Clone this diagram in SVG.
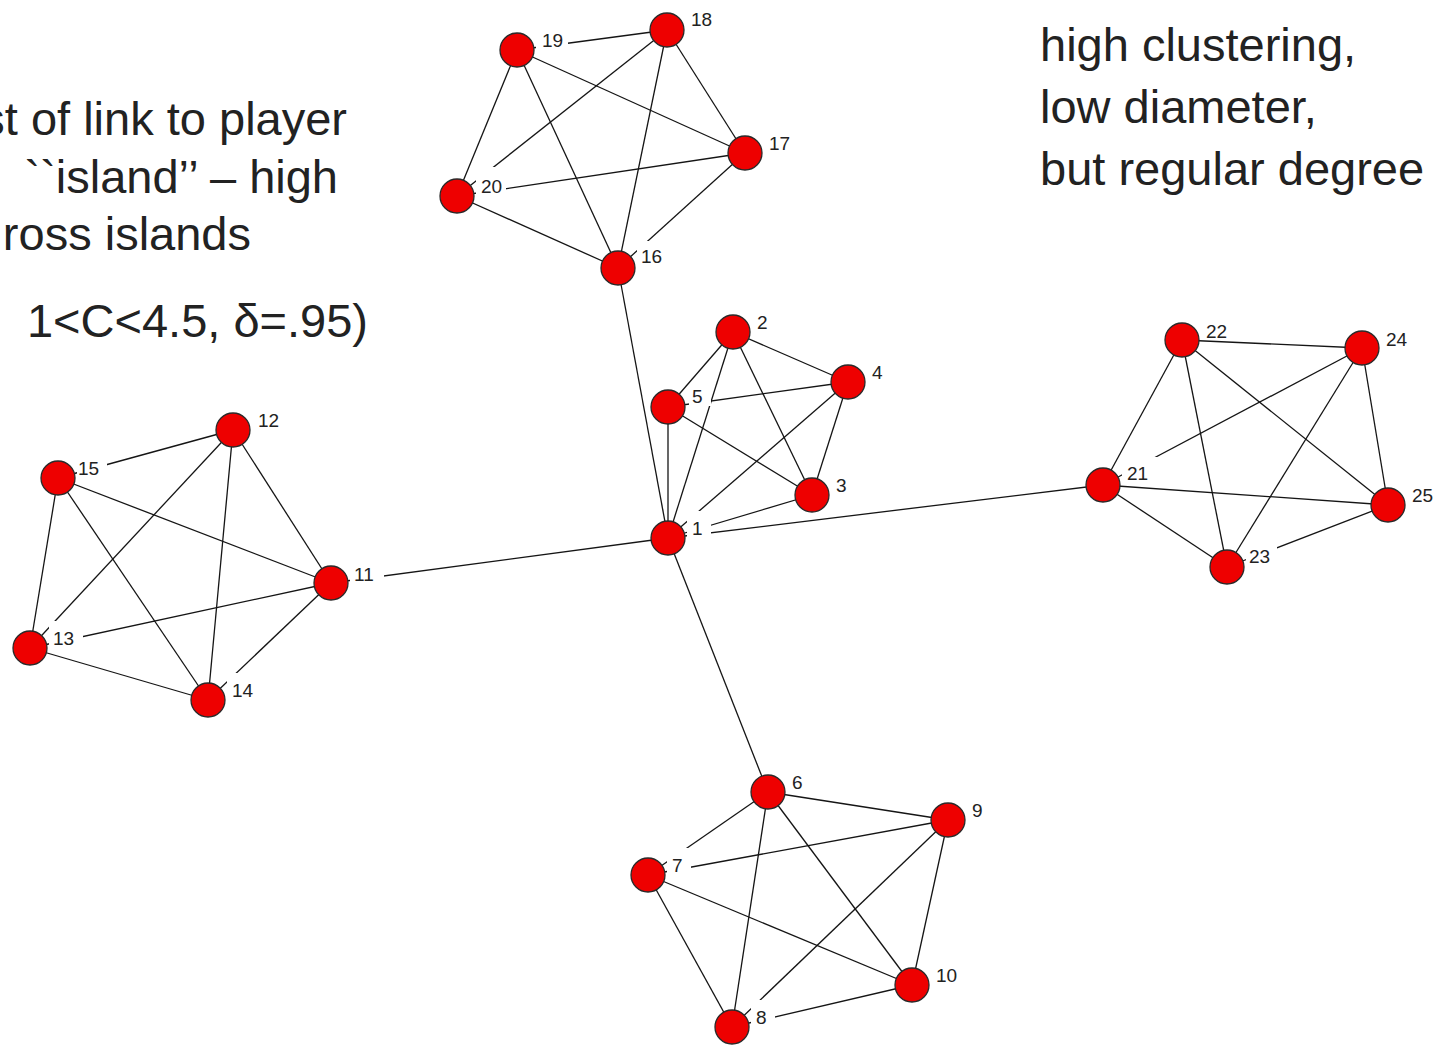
<svg xmlns="http://www.w3.org/2000/svg" width="1449" height="1057" viewBox="0 0 1449 1057">
  <style>
    .edge { stroke: #151515; stroke-width: 1.3; fill: none; }
    .node circle { fill: #ee0000; stroke: #2a2a2a; stroke-width: 1.3; }
    .node text { font-family: "Liberation Sans", Arial, sans-serif; font-size: 19px; fill: #222; }
    .lblbg { fill: #ffffff; }
    .note { font-family: "Liberation Sans", Arial, sans-serif; font-size: 47px; fill: #222; }
  </style>
  <rect width="1449" height="1057" fill="#ffffff"/>

  <!-- captions -->
  <g id="caption-left" class="note" text-anchor="end">
    <text x="347" y="135">st of link to player</text>
    <text x="338" y="193">``island’’ – high</text>
    <text x="251" y="250">ross islands</text>
    <text x="368" y="337">1&lt;C&lt;4.5, δ=.95)</text>
  </g>
  <g id="caption-right" class="note">
    <text x="1040" y="61">high clustering,</text>
    <text x="1040" y="123">low diameter,</text>
    <text x="1040" y="185">but regular degree</text>
  </g>

  <!-- connectors -->
  <g id="edges" class="edge">
    <!-- island 1..5 -->
    <line x1="668" y1="538" x2="733" y2="332"/>
    <line x1="668" y1="538" x2="812" y2="495"/>
    <line x1="668" y1="538" x2="848" y2="382"/>
    <line x1="668" y1="538" x2="668" y2="407"/>
    <line x1="733" y1="332" x2="812" y2="495"/>
    <line x1="733" y1="332" x2="848" y2="382"/>
    <line x1="733" y1="332" x2="668" y2="407"/>
    <line x1="812" y1="495" x2="848" y2="382"/>
    <line x1="812" y1="495" x2="668" y2="407"/>
    <line x1="848" y1="382" x2="668" y2="407"/>
    <!-- island 6..10 -->
    <line x1="768" y1="792" x2="648" y2="875"/>
    <line x1="768" y1="792" x2="732" y2="1027"/>
    <line x1="768" y1="792" x2="948" y2="820"/>
    <line x1="768" y1="792" x2="912" y2="985"/>
    <line x1="648" y1="875" x2="732" y2="1027"/>
    <line x1="648" y1="875" x2="948" y2="820"/>
    <line x1="648" y1="875" x2="912" y2="985"/>
    <line x1="732" y1="1027" x2="948" y2="820"/>
    <line x1="732" y1="1027" x2="912" y2="985"/>
    <line x1="948" y1="820" x2="912" y2="985"/>
    <!-- island 11..15 -->
    <line x1="331" y1="583" x2="233" y2="430"/>
    <line x1="331" y1="583" x2="30" y2="648"/>
    <line x1="331" y1="583" x2="208" y2="700"/>
    <line x1="331" y1="583" x2="58" y2="478"/>
    <line x1="233" y1="430" x2="30" y2="648"/>
    <line x1="233" y1="430" x2="208" y2="700"/>
    <line x1="233" y1="430" x2="58" y2="478"/>
    <line x1="30" y1="648" x2="208" y2="700"/>
    <line x1="30" y1="648" x2="58" y2="478"/>
    <line x1="208" y1="700" x2="58" y2="478"/>
    <!-- island 16..20 -->
    <line x1="618" y1="268" x2="745" y2="153"/>
    <line x1="618" y1="268" x2="667" y2="30"/>
    <line x1="618" y1="268" x2="517" y2="50"/>
    <line x1="618" y1="268" x2="457" y2="196"/>
    <line x1="745" y1="153" x2="667" y2="30"/>
    <line x1="745" y1="153" x2="517" y2="50"/>
    <line x1="745" y1="153" x2="457" y2="196"/>
    <line x1="667" y1="30" x2="517" y2="50"/>
    <line x1="667" y1="30" x2="457" y2="196"/>
    <line x1="517" y1="50" x2="457" y2="196"/>
    <!-- island 21..25 -->
    <line x1="1103" y1="485" x2="1182" y2="340"/>
    <line x1="1103" y1="485" x2="1227" y2="567"/>
    <line x1="1103" y1="485" x2="1362" y2="348"/>
    <line x1="1103" y1="485" x2="1388" y2="505"/>
    <line x1="1182" y1="340" x2="1227" y2="567"/>
    <line x1="1182" y1="340" x2="1362" y2="348"/>
    <line x1="1182" y1="340" x2="1388" y2="505"/>
    <line x1="1227" y1="567" x2="1362" y2="348"/>
    <line x1="1227" y1="567" x2="1388" y2="505"/>
    <line x1="1362" y1="348" x2="1388" y2="505"/>
    <!-- bridges from the hub -->
    <line x1="668" y1="538" x2="618" y2="268"/>
    <line x1="668" y1="538" x2="331" y2="583"/>
    <line x1="668" y1="538" x2="1103" y2="485"/>
    <line x1="668" y1="538" x2="768" y2="792"/>
  </g>

  <!-- nodes: label box, label, disc -->
  <g id="n1" class="node"><rect class="lblbg" x="687" y="511" width="24" height="26"/><text x="692" y="535">1</text><circle cx="668" cy="538" r="17"/></g>
  <g id="n2" class="node"><rect class="lblbg" x="752" y="305" width="24" height="26"/><text x="757" y="329">2</text><circle cx="733" cy="332" r="17"/></g>
  <g id="n3" class="node"><rect class="lblbg" x="831" y="468" width="24" height="26"/><text x="836" y="492">3</text><circle cx="812" cy="495" r="17"/></g>
  <g id="n4" class="node"><rect class="lblbg" x="867" y="355" width="24" height="26"/><text x="872" y="379">4</text><circle cx="848" cy="382" r="17"/></g>
  <g id="n5" class="node"><rect class="lblbg" x="689" y="390" width="22" height="16"/><text x="692" y="403">5</text><circle cx="668" cy="407" r="17"/></g>
  <g id="n6" class="node"><rect class="lblbg" x="787" y="765" width="24" height="26"/><text x="792" y="789">6</text><circle cx="768" cy="792" r="17"/></g>
  <g id="n7" class="node"><rect class="lblbg" x="667" y="848" width="24" height="26"/><text x="672" y="872">7</text><circle cx="648" cy="875" r="17"/></g>
  <g id="n8" class="node"><rect class="lblbg" x="751" y="1000" width="24" height="26"/><text x="756" y="1024">8</text><circle cx="732" cy="1027" r="17"/></g>
  <g id="n9" class="node"><rect class="lblbg" x="967" y="793" width="24" height="26"/><text x="972" y="817">9</text><circle cx="948" cy="820" r="17"/></g>
  <g id="n10" class="node"><rect class="lblbg" x="931" y="958" width="34" height="26"/><text x="936" y="982">10</text><circle cx="912" cy="985" r="17"/></g>
  <g id="n11" class="node"><rect class="lblbg" x="350" y="556" width="34" height="26"/><text x="354" y="581">11</text><circle cx="331" cy="583" r="17"/></g>
  <g id="n12" class="node"><rect class="lblbg" x="252" y="403" width="34" height="26"/><text x="258" y="427">12</text><circle cx="233" cy="430" r="17"/></g>
  <g id="n13" class="node"><rect class="lblbg" x="49" y="621" width="34" height="26"/><text x="53" y="645">13</text><circle cx="30" cy="648" r="17"/></g>
  <g id="n14" class="node"><rect class="lblbg" x="227" y="673" width="34" height="26"/><text x="232" y="697">14</text><circle cx="208" cy="700" r="17"/></g>
  <g id="n15" class="node"><rect class="lblbg" x="77" y="451" width="30" height="26"/><text x="78" y="475">15</text><circle cx="58" cy="478" r="17"/></g>
  <g id="n16" class="node"><rect class="lblbg" x="637" y="241" width="34" height="26"/><text x="641" y="263">16</text><circle cx="618" cy="268" r="17"/></g>
  <g id="n17" class="node"><rect class="lblbg" x="764" y="126" width="34" height="26"/><text x="769" y="150">17</text><circle cx="745" cy="153" r="17"/></g>
  <g id="n18" class="node"><rect class="lblbg" x="686" y="3" width="34" height="26"/><text x="691" y="26">18</text><circle cx="667" cy="30" r="17"/></g>
  <g id="n19" class="node"><rect class="lblbg" x="536" y="23" width="32" height="26"/><text x="542" y="47">19</text><circle cx="517" cy="50" r="17"/></g>
  <g id="n20" class="node"><rect class="lblbg" x="476" y="167" width="30" height="28"/><text x="481" y="193">20</text><circle cx="457" cy="196" r="17"/></g>
  <g id="n21" class="node"><rect class="lblbg" x="1122" y="457" width="42" height="27"/><text x="1127" y="480">21</text><circle cx="1103" cy="485" r="17"/></g>
  <g id="n22" class="node"><rect class="lblbg" x="1201" y="313" width="34" height="26"/><text x="1206" y="338">22</text><circle cx="1182" cy="340" r="17"/></g>
  <g id="n23" class="node"><rect class="lblbg" x="1246" y="540" width="31" height="26"/><text x="1249" y="563">23</text><circle cx="1227" cy="567" r="17"/></g>
  <g id="n24" class="node"><rect class="lblbg" x="1381" y="321" width="34" height="26"/><text x="1386" y="346">24</text><circle cx="1362" cy="348" r="17"/></g>
  <g id="n25" class="node"><rect class="lblbg" x="1407" y="478" width="34" height="26"/><text x="1412" y="502">25</text><circle cx="1388" cy="505" r="17"/></g>
</svg>
